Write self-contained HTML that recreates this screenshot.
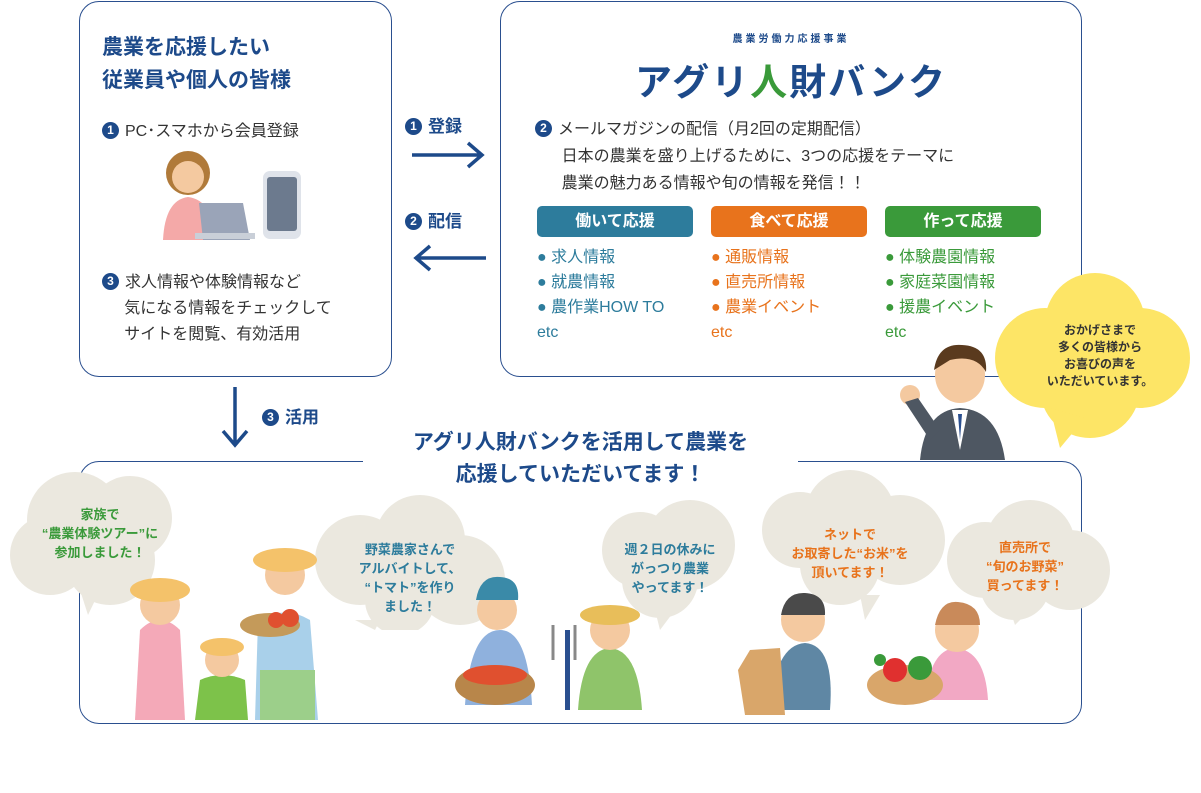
<!DOCTYPE html>
<html><head><meta charset="utf-8"><style>
*{margin:0;padding:0;box-sizing:border-box}
body{width:1201px;height:793px;background:#fff;position:relative;overflow:hidden;font-family:"Liberation Sans","Noto Sans CJK JP",sans-serif;color:#333}
.a{position:absolute}
.box{position:absolute;border:1.5px solid #2a4f8f;border-radius:20px;background:#fff}
.navy{color:#1d4a8a}
.num{display:inline-block;width:17px;height:17px;border-radius:50%;background:#1d4a8a;color:#fff;font-size:12px;line-height:17px;text-align:center;font-weight:bold;vertical-align:2px;margin-right:6px}
.tag{position:absolute;width:156px;height:31px;border-radius:5px;color:#fff;font-weight:bold;font-size:16px;text-align:center;line-height:31px}
.lst{position:absolute;font-size:16px;line-height:25px}
.bub{position:absolute;text-align:center;font-weight:bold;font-size:13px;line-height:19px}
</style></head><body>

<!-- left box -->
<div class="box" style="left:79px;top:1px;width:313px;height:376px"></div>
<div class="a navy" style="left:102px;top:31px;font-size:21px;font-weight:bold;line-height:33px">農業を応援したい<br>従業員や個人の皆様</div>
<div class="a" style="left:102px;top:117px;font-size:16px"><span class="num">1</span>PC･スマホから会員登録</div>
<div class="a" style="left:102px;top:270px;font-size:16px;line-height:26px"><span class="num">3</span>求人情報や体験情報など<br>&nbsp;&nbsp;&nbsp;&nbsp;&nbsp;気になる情報をチェックして<br>&nbsp;&nbsp;&nbsp;&nbsp;&nbsp;サイトを閲覧、有効活用</div>
<!-- woman with laptop -->
<svg class="a" style="left:155px;top:145px" width="160" height="100">
<ellipse cx="33" cy="28" rx="22" ry="22" fill="#b07a3a"/>
<circle cx="33" cy="32" r="16" fill="#f4c9a0"/>
<path d="M8 95 Q10 55 33 52 Q58 55 60 95Z" fill="#f4a9a8"/>
<polygon points="48,95 95,95 88,58 44,58" fill="#9aa4b8"/>
<rect x="40" y="88" width="60" height="6" fill="#c9cfd8"/>
<rect x="108" y="26" width="38" height="68" rx="7" fill="#dfe3ea"/>
<rect x="112" y="32" width="30" height="54" rx="3" fill="#6c7a8e"/>
</svg>

<!-- right box -->
<div class="box" style="left:500px;top:1px;width:582px;height:376px"></div>
<div class="a navy" style="left:500px;width:582px;top:30px;text-align:center;font-size:10px;font-weight:bold;letter-spacing:3px">農業労働力応援事業</div>
<div class="a navy" style="left:500px;width:582px;top:52px;text-align:center;font-size:37px;font-weight:bold;letter-spacing:2px">アグリ<span style="color:#3a9a3a">人</span>財バンク</div>
<div class="a" style="left:535px;top:116px;font-size:16px;line-height:27px"><span class="num">2</span>メールマガジンの配信（月2回の定期配信）<br>&nbsp;&nbsp;&nbsp;&nbsp;&nbsp;&nbsp;日本の農業を盛り上げるために、3つの応援をテーマに<br>&nbsp;&nbsp;&nbsp;&nbsp;&nbsp;&nbsp;農業の魅力ある情報や旬の情報を発信！！</div>
<div class="tag" style="left:537px;top:206px;background:#2d7c9c">働いて応援</div>
<div class="tag" style="left:711px;top:206px;background:#e8731c">食べて応援</div>
<div class="tag" style="left:885px;top:206px;background:#3a9a3a">作って応援</div>
<div class="lst" style="left:537px;top:245px;color:#2d7c9c">● 求人情報<br>● 就農情報<br>● 農作業HOW TO<br>etc</div>
<div class="lst" style="left:711px;top:245px;color:#e8731c">● 通販情報<br>● 直売所情報<br>● 農業イベント<br>etc</div>
<div class="lst" style="left:885px;top:245px;color:#3a9a3a">● 体験農園情報<br>● 家庭菜園情報<br>● 援農イベント<br>etc</div>

<!-- arrows -->
<div class="a navy" style="left:405px;top:112px;font-size:17px;font-weight:bold"><span class="num">1</span>登録</div>
<svg class="a" style="left:410px;top:140px" width="80" height="30"><path d="M2 15H72M58 3L72 15L58 27" stroke="#1d4a8a" stroke-width="3.5" fill="none"/></svg>
<div class="a navy" style="left:405px;top:207px;font-size:17px;font-weight:bold"><span class="num">2</span>配信</div>
<svg class="a" style="left:410px;top:243px" width="80" height="30"><path d="M76 15H6M20 3L6 15L20 27" stroke="#1d4a8a" stroke-width="3.5" fill="none"/></svg>
<svg class="a" style="left:220px;top:385px" width="30" height="66"><path d="M15 2V60M3 46L15 60L27 46" stroke="#1d4a8a" stroke-width="3.5" fill="none"/></svg>
<div class="a navy" style="left:262px;top:403px;font-size:17px;font-weight:bold"><span class="num">3</span>活用</div>

<!-- bottom box -->
<div class="box" style="left:79px;top:461px;width:1003px;height:263px"></div>
<div class="a" style="left:363px;top:450px;width:435px;height:20px;background:#fff"></div>
<div class="a navy" style="left:363px;width:435px;top:427px;text-align:center;font-size:21px;font-weight:bold;line-height:32px">アグリ人財バンクを活用して農業を<br>応援していただいてます！</div>

<!-- yellow cloud + businessman -->
<svg class="a" style="left:990px;top:268px" width="210" height="185">
<g fill="#fde566"><circle cx="105" cy="55" r="50"/><circle cx="55" cy="90" r="50"/><circle cx="150" cy="90" r="50"/><circle cx="100" cy="120" r="50"/><polygon points="60,140 95,150 70,180"/></g></svg>
<div class="bub" style="left:1010px;top:322px;width:180px;color:#333;font-size:12px;line-height:17px">おかげさまで<br>多くの皆様から<br>お喜びの声を<br>いただいています。</div>
<svg class="a" style="left:890px;top:340px" width="130" height="122">
<path d="M30 120 Q35 70 70 68 Q108 70 115 120Z" fill="#4e5762"/>
<path d="M62 70 L70 110 L78 70Z" fill="#fff"/><path d="M68 74 L70 100 L72 74Z" fill="#2a4f8f"/>
<ellipse cx="70" cy="35" rx="25" ry="28" fill="#f4c9a0"/>
<path d="M44 30 Q48 3 72 5 Q98 6 96 32 Q86 14 60 20Z" fill="#5a3a1e"/>
<circle cx="20" cy="55" r="10" fill="#f4c9a0"/><path d="M15 62 L40 100 L50 90 L28 58Z" fill="#4e5762"/>
</svg>

<!-- bubbles -->
<svg class="a" style="left:0;top:470px" width="1201" height="160">
<g fill="#ebe8df">
<circle cx="75" cy="50" r="48"/><circle cx="130" cy="48" r="42"/><circle cx="50" cy="85" r="40"/><circle cx="110" cy="90" r="45"/><polygon points="80,120 100,120 88,145"/>
<circle cx="360" cy="90" r="45"/><circle cx="420" cy="70" r="45"/><circle cx="460" cy="110" r="45"/><circle cx="400" cy="130" r="35"/><polygon points="355,150 380,150 375,160"/>
<circle cx="640" cy="80" r="38"/><circle cx="690" cy="75" r="45"/><circle cx="660" cy="110" r="38"/><polygon points="655,140 675,140 660,160"/>
<circle cx="800" cy="60" r="38"/><circle cx="850" cy="45" r="45"/><circle cx="900" cy="70" r="45"/><circle cx="840" cy="95" r="40"/><polygon points="860,125 880,125 865,150"/>
<circle cx="985" cy="90" r="38"/><circle cx="1030" cy="75" r="45"/><circle cx="1070" cy="100" r="40"/><circle cx="1015" cy="115" r="35"/><polygon points="1010,140 1030,140 1015,155"/>
</g></svg>
<div class="bub" style="left:20px;top:505px;width:160px;color:#3a9a3a">家族で<br>“農業体験ツアー”に<br>参加しました！</div>
<div class="bub" style="left:340px;top:540px;width:140px;color:#2d7c9c">野菜農家さんで<br>アルバイトして、<br>“トマト”を作り<br>ました！</div>
<div class="bub" style="left:600px;top:540px;width:140px;color:#2d7c9c">週２日の休みに<br>がっつり農業<br>やってます！</div>
<div class="bub" style="left:770px;top:525px;width:160px;color:#e8731c">ネットで<br>お取寄した“お米”を<br>頂いてます！</div>
<div class="bub" style="left:960px;top:538px;width:130px;color:#e8731c">直売所で<br>“旬のお野菜”<br>買ってます！</div>

<!-- people -->
<svg class="a" style="left:0;top:520px" width="1201" height="200">
<!-- family -->
<path d="M135 200 L140 110 Q160 90 180 110 L185 200Z" fill="#f4a9b8"/><circle cx="160" cy="85" r="20" fill="#f4c9a0"/><ellipse cx="160" cy="70" rx="30" ry="12" fill="#f4c26a"/>
<path d="M255 200 L258 100 Q285 85 310 100 L318 200Z" fill="#a9d0ea"/><rect x="260" y="150" width="55" height="50" fill="#9ccf8a"/><circle cx="285" cy="55" r="20" fill="#f4c9a0"/><ellipse cx="285" cy="40" rx="32" ry="12" fill="#f4c26a"/>
<ellipse cx="270" cy="105" rx="30" ry="12" fill="#c49a5a"/><circle cx="290" cy="98" r="9" fill="#e0502f"/><circle cx="276" cy="100" r="8" fill="#e0502f"/>
<path d="M195 200 L200 160 Q222 150 245 160 L248 200Z" fill="#7dc24a"/><circle cx="222" cy="140" r="17" fill="#f4c9a0"/><ellipse cx="222" cy="127" rx="22" ry="9" fill="#f4c26a"/>
<!-- farmer w tomatoes -->
<path d="M465 185 Q470 110 500 110 Q528 110 532 185Z" fill="#8fb1dd"/><circle cx="497" cy="90" r="20" fill="#f4c9a0"/><path d="M476 80 Q480 55 500 57 Q520 58 518 80Z" fill="#3a8aa8"/>
<ellipse cx="495" cy="165" rx="40" ry="20" fill="#b8864a"/><ellipse cx="495" cy="155" rx="32" ry="10" fill="#e0502f"/>
<!-- kid with hat -->
<path d="M578 190 Q582 130 610 128 Q638 130 642 190Z" fill="#8fc46a"/><circle cx="610" cy="110" r="20" fill="#f4c9a0"/><ellipse cx="610" cy="95" rx="30" ry="10" fill="#e8be5a"/>
<rect x="565" y="110" width="5" height="80" fill="#2a4f8f"/><path d="M553 140 L553 105 M575 140 L575 105" stroke="#888" stroke-width="3"/>
<!-- man rice -->
<path d="M770 190 Q775 125 805 123 Q835 125 830 190Z" fill="#5f87a4"/><circle cx="803" cy="100" r="22" fill="#f4c9a0"/><path d="M781 95 Q785 72 805 73 Q826 74 825 95Z" fill="#4a4a4a"/>
<path d="M738 150 L750 130 L780 128 L785 195 L745 195Z" fill="#d9a66a"/>
<!-- woman veggies -->
<path d="M925 180 Q930 130 955 128 Q985 130 988 180Z" fill="#f2a8c4"/><circle cx="957" cy="110" r="22" fill="#f4c9a0"/><path d="M935 105 Q940 80 958 82 Q980 84 980 105Z" fill="#c98a5a"/>
<ellipse cx="905" cy="165" rx="38" ry="20" fill="#d9a66a"/><circle cx="895" cy="150" r="12" fill="#e0302f"/><circle cx="920" cy="148" r="12" fill="#3a9a3a"/><circle cx="880" cy="140" r="6" fill="#3a9a3a"/>
</svg>
</body></html>
